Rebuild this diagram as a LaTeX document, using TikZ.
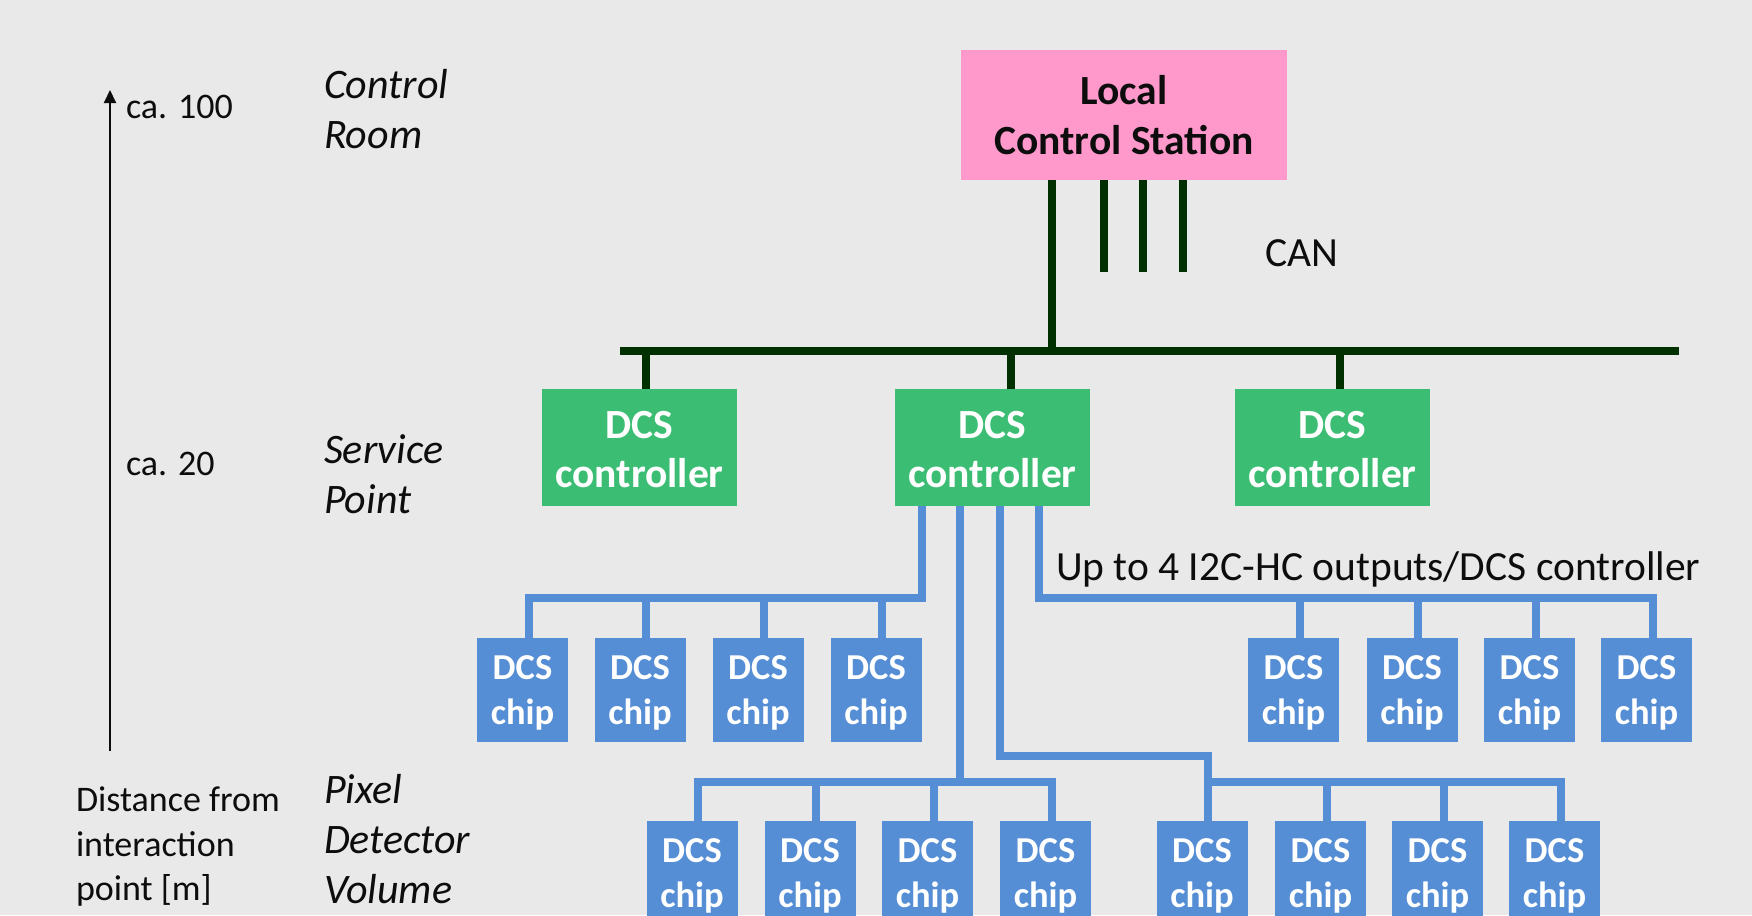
\documentclass[tikz,border=0pt]{standalone}
\usepackage{fontspec}
\setmainfont{Carlito}
\usetikzlibrary{arrows.meta}
\definecolor{bgc}{RGB}{233,233,233}
\definecolor{stationc}{RGB}{255,153,204}
\definecolor{ctrlc}{RGB}{60,189,116}
\definecolor{chipc}{RGB}{85,142,213}
\definecolor{canc}{RGB}{0,48,0}
\definecolor{inkc}{RGB}{13,13,13}
\begin{document}
\begin{tikzpicture}[x=1bp,y=-1bp,
  every node/.style={inner sep=0pt, outer sep=0pt},
  station/.style={fill=stationc, text=inkc, minimum width=326bp, minimum height=130bp,
    align=center, font=\fontsize{41.5bp}{50bp}\selectfont\bfseries},
  ctrl/.style={fill=ctrlc, text=white, minimum width=195bp, minimum height=117bp,
    align=center, font=\fontsize{41.5bp}{49bp}\selectfont\bfseries},
  chip/.style={fill=chipc, text=white, minimum width=91bp, minimum height=104bp,
    align=center, font=\fontsize{36.5bp}{45bp}\selectfont\bfseries},
  lefttext/.style={text=inkc, align=left, font=\fontsize{36bp}{44.5bp}\selectfont},
  zone/.style={text=inkc, align=left, font=\fontsize{42bp}{50bp}\selectfont\itshape},
  remark/.style={text=inkc, font=\fontsize{41.5bp}{50bp}\selectfont},
  canline/.style={draw=canc, line width=8.5bp},
  wire/.style={draw=chipc, line width=8bp},
]
\clip (0,0) rectangle (1752,915);
\fill[bgc] (0,0) rectangle (1752,915);

% distance axis
\coordinate (ax0) at (110,751);
\coordinate (ax1) at (110,90);
\draw[inkc, line width=2bp, -{Triangle[length=13bp,width=12bp]}] (ax0) -- (ax1);
\node[lefttext, anchor=base west] (d100) at (126,118) {ca. 100};
\node[lefttext, anchor=base west] (d20) at (126,475) {ca. 20};
\node[lefttext, anchor=west] (axis) at (76,847) {Distance from\\interaction\\point [m]};

% location labels
\node[zone, anchor=west] (cr) at (324,109) {Control\\Room};
\node[zone, anchor=west] (sp) at (324,474) {Service\\Point};
\node[zone, anchor=west] (pdv) at (324,839) {Pixel\\Detector\\Volume};

% boxes
\node[station] (lcs) at (1124,115) {Local\\Control Station};
\foreach \n/\x in {c1/639.5,c2/992.5,c3/1332.5}
  \node[ctrl] (\n) at (\x,447.5) {\rule{0pt}{32bp}DCS\\controller};
\foreach \n/\x in {a1/522.5,a2/640,a3/758,a4/876,b1/1293.5,b2/1412,b3/1529.5,b4/1646.5}
  \node[chip] (\n) at (\x,690) {\rule{0pt}{30bp}DCS\\chip};
\foreach \n/\x in {p1/692,p2/810,p3/927.5,p4/1045.5,q1/1202,q2/1320.5,q3/1437.5,q4/1554.5}
  \node[chip] (\n) at (\x,873) {\rule{0pt}{30bp}DCS\\chip};

% CAN bus
\coordinate (canL) at (620,351);
\coordinate (canR) at (1679,351);
\draw[canline] (canL) -- (canR);
\coordinate (t0) at ([xshift=-72bp]lcs.south);
\draw[canline] (t0) -- (t0 |- canL);
\foreach \dx in {-20,19,59}
  \draw[canline] ([xshift=\dx bp]lcs.south) -- ++(0,92);
\foreach \c/\dx in {c1/6.5,c2/18.5,c3/7.5}
  \draw[canline] ([xshift=\dx bp]\c.north) -- ++(0,-38);
\node[remark, anchor=base west] (canlbl) at (1265,266) {CAN};

% I2C-HC outputs
\coordinate (o1) at ([xshift=-70.5bp]c2.south);
\coordinate (o2) at ([xshift=-32.5bp]c2.south);
\coordinate (o3) at ([xshift=7.5bp]c2.south);
\coordinate (o4) at ([xshift=46.5bp]c2.south);
\foreach \n in {a1,a2,a3,a4,b1,b2,b3,b4,p1,p2,p3,p4,q1,q2,q3,q4}
  \coordinate (\n t) at ([xshift=6bp]\n.north);

\draw[wire] (o1) |- ([yshift=40bp]a1t) -- (a1t);
\foreach \n in {a2,a3,a4} \draw[wire] (\n t) -- ++(0,-40);

\draw[wire] (o4) |- ([yshift=40bp]b4t) -- (b4t);
\foreach \n in {b1,b2,b3} \draw[wire] (\n t) -- ++(0,-40);

\coordinate (pbus) at ([yshift=39bp]p1t);
\draw[wire] (p1t) -- (pbus) -- ([yshift=39bp]p4t) -- (p4t);
\draw[wire] (o2) -- (o2 |- pbus);
\foreach \n in {p2,p3} \draw[wire] (\n t) -- ++(0,-39);

\draw[wire] (o3) |- ([yshift=65bp]q1t) -- (q1t);
\draw[wire] ([yshift=39bp]q1t) -- ([yshift=39bp]q4t) -- (q4t);
\foreach \n in {q2,q3} \draw[wire] (\n t) -- ++(0,-39);

\node[remark, anchor=base west] (i2c) at (1056,580) {Up to 4 I2C-HC outputs/DCS controller};
\end{tikzpicture}
\end{document}
